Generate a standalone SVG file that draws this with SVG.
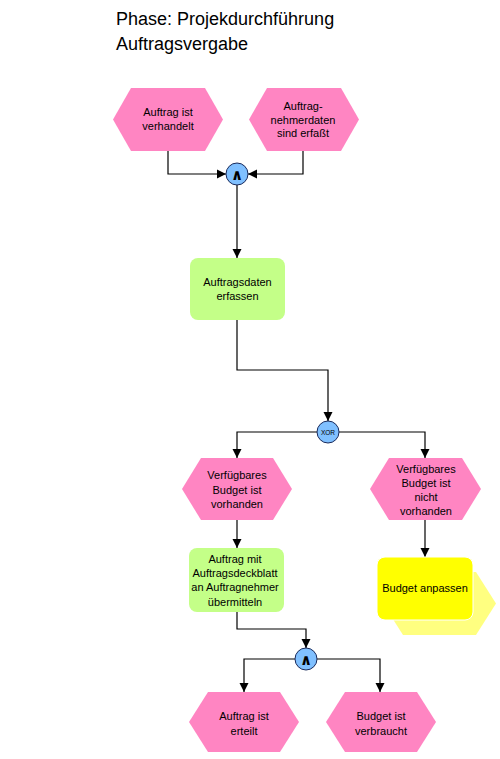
<svg xmlns="http://www.w3.org/2000/svg" width="500" height="759" viewBox="0 0 500 759">
<style>
.ev{fill:#FF85C2;stroke:none}
.fn{fill:#C4FF88;stroke:none}
.op{fill:#80C0FF;stroke:#1A2A5A;stroke-width:1}
.t{font-family:"Liberation Sans",Arial,sans-serif;font-size:11px;fill:#000;text-anchor:middle}
.title{font-family:"Liberation Sans",Arial,sans-serif;font-size:18px;fill:#000}
.and{font-family:"DejaVu Sans",sans-serif;font-size:15px;font-weight:bold;fill:#000;text-anchor:middle}
.c{fill:none;stroke:#000;stroke-width:1.2;marker-end:url(#ah)}
</style>
<defs>
<marker id="ah" viewBox="0 0 10 10" refX="10" refY="5" markerWidth="9" markerHeight="10" markerUnits="userSpaceOnUse" orient="auto">
<path d="M0,0 L10,5 L0,10 z" fill="#000"/>
</marker>
</defs>
<rect width="500" height="759" fill="#fff"/>
<g id="title">
<text class="title" x="116" y="25">Phase: Projekdurchführung</text>
<text class="title" x="116" y="50">Auftragsvergabe</text>
</g>
<g id="connectors">
<path class="c" d="M168,151 V174 H226"/>
<path class="c" d="M303,151 V174 H248"/>
<path class="c" d="M237,185 V258"/>
<path class="c" d="M237,320 V370 H328 V421"/>
<path class="c" d="M317,432 H237 V458"/>
<path class="c" d="M339,432 H425 V458"/>
<path class="c" d="M237,520 V548"/>
<path class="c" d="M425,520 V557"/>
<path class="c" d="M237,612 V629 H306 V648"/>
<path class="c" d="M295,659 H244 V692"/>
<path class="c" d="M317,659 H380 V692"/>
</g>
<g id="ev1">
<polygon class="ev" points="113,119.5 131,88 205,88 223,119.5 205,151 131,151"/>
<text class="t" x="168" y="116">Auftrag ist</text>
<text class="t" x="168" y="130">verhandelt</text>
</g>
<g id="ev2">
<polygon class="ev" points="249,119.5 267,88 341,88 359,119.5 341,151 267,151"/>
<text class="t" x="303" y="110">Auftrag-</text>
<text class="t" x="303" y="123.5">nehmerdaten</text>
<text class="t" x="303" y="137">sind erfaßt</text>
</g>
<g id="and1">
<circle class="op" cx="237" cy="174" r="11"/>
<text class="and" x="237" y="180">∧</text>
</g>
<g id="fn1">
<rect class="fn" x="190" y="258" width="95" height="62" rx="8"/>
<text class="t" x="237.5" y="286">Auftragsdaten</text>
<text class="t" x="237.5" y="300">erfassen</text>
</g>
<g id="xor">
<circle class="op" cx="328" cy="432" r="11"/>
<text x="328" y="434.5" font-family="Liberation Sans,Arial,sans-serif" font-size="6.5" text-anchor="middle">XOR</text>
</g>
<g id="ev3">
<polygon class="ev" points="182,489 201,458 273,458 292,489 273,520 201,520"/>
<text class="t" x="237" y="479">Verfügbares</text>
<text class="t" x="237" y="494">Budget ist</text>
<text class="t" x="237" y="508">vorhanden</text>
</g>
<g id="ev4">
<polygon class="ev" points="370,489 389,458 462,458 481,489 462,520 389,520"/>
<text class="t" x="426" y="473">Verfügbares</text>
<text class="t" x="426" y="487">Budget ist</text>
<text class="t" x="426" y="501">nicht</text>
<text class="t" x="426" y="515">vorhanden</text>
</g>
<g id="fn2">
<rect class="fn" x="189" y="548" width="95" height="64" rx="8"/>
<text class="t" x="235" y="563">Auftrag mit</text>
<text class="t" x="235" y="577">Auftragsdeckblatt</text>
<text class="t" x="235" y="591">an Auftragnehmer</text>
<text class="t" x="235" y="606">übermitteln</text>
</g>
<g id="fn3">
<polygon points="383,603.5 403,572 476,572 496,603.5 476,635 403,635" fill="#FFFF80"/>
<rect x="377" y="557" width="96" height="63" rx="8" fill="#FFFF00" stroke="#fff" stroke-width="1"/>
<text class="t" x="425" y="592">Budget anpassen</text>
</g>
<g id="and2">
<circle class="op" cx="306" cy="659" r="11"/>
<text class="and" x="306" y="665">∧</text>
</g>
<g id="ev5">
<polygon class="ev" points="189,722 208,692 280,692 299,722 280,752 208,752"/>
<text class="t" x="244" y="720">Auftrag ist</text>
<text class="t" x="244" y="735">erteilt</text>
</g>
<g id="ev6">
<polygon class="ev" points="326,722 345,692 417,692 436,722 417,752 345,752"/>
<text class="t" x="381" y="720">Budget ist</text>
<text class="t" x="381" y="735">verbraucht</text>
</g>
</svg>
